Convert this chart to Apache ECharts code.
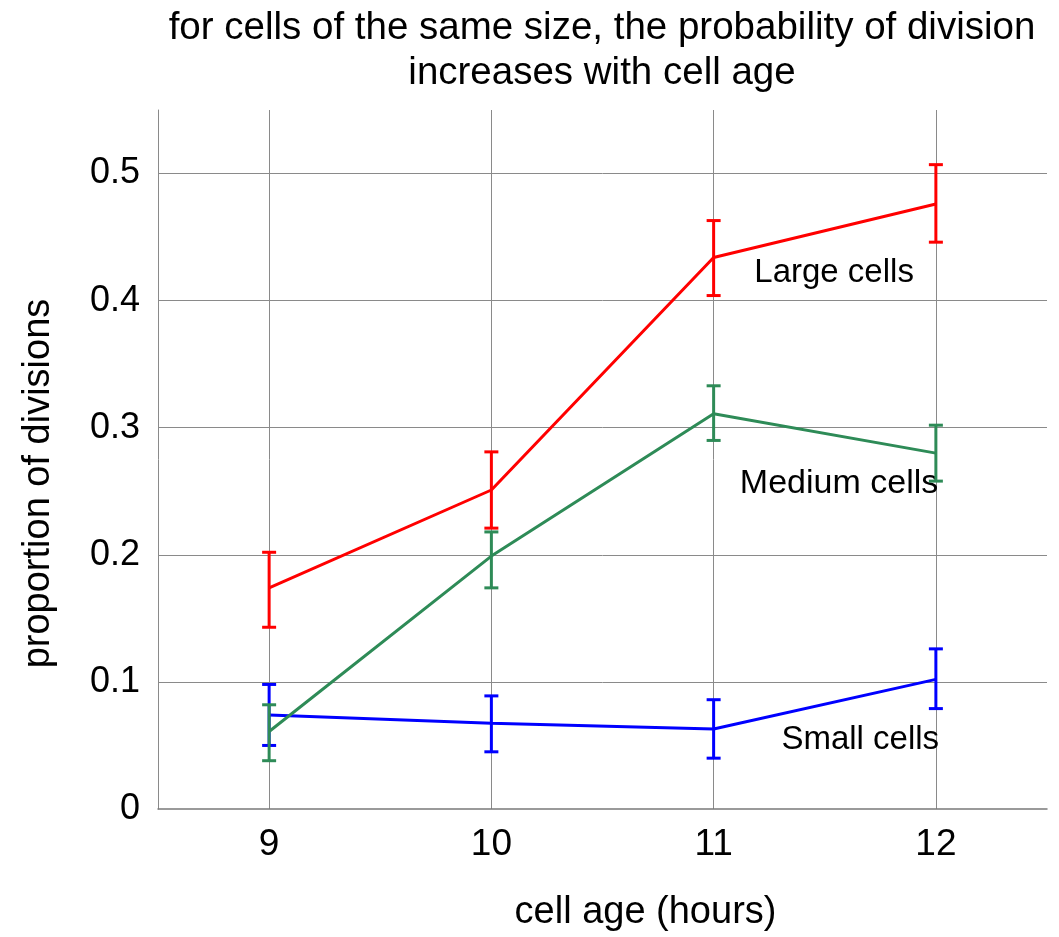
<!DOCTYPE html>
<html>
<head>
<meta charset="utf-8">
<script src="https://cdn.jsdelivr.net/npm/echarts@6/dist/echarts.min.js"></script>
<style>
html,body{margin:0;padding:0;background:#fff;}
#chart{width:1059px;height:937px;}
</style>
</head>
<body>
<div id="chart"></div>
<script>
// ---- data ----
const ages = [9, 10, 11, 12];
const xTickValues = [9, 10, 11, 12];
const yTickLabels = ['0', '0.1', '0.2', '0.3', '0.4', '0.5'];

const largeMean = [0.174, 0.251, 0.434, 0.476];
const largeLow  = [0.143, 0.221, 0.404, 0.446];
const largeHigh = [0.202, 0.281, 0.463, 0.507];

const mediumMean = [0.061, 0.199, 0.311, 0.280];
const mediumLow  = [0.038, 0.174, 0.290, 0.258];
const mediumHigh = [0.082, 0.218, 0.333, 0.302];

const smallMean = [0.074, 0.0675, 0.063, 0.102];
const smallLow  = [0.050, 0.045, 0.040, 0.079];
const smallHigh = [0.098, 0.089, 0.086, 0.126];

const seriesNames = ['Small cells', 'Medium cells', 'Large cells'];
// label anchor points (data space) for in-plot labels
const labelAnchorX = [11.305, 11.118, 11.183];
const labelAnchorY = [0.054, 0.256, 0.4215];

const colors = ['#0000ff', '#2e8b57', '#ff0000'];
const FONT = '"Liberation Sans", Arial, Helvetica, sans-serif';

const means = [smallMean, mediumMean, largeMean];
const lows = [smallLow, mediumLow, largeLow];
const highs = [smallHigh, mediumHigh, largeHigh];

function errorRender(color) {
  return function (params, api) {
    const x = api.value(0);
    const lo = api.coord([x, api.value(1)]);
    const hi = api.coord([x, api.value(2)]);
    const hw = 7;
    const style = { stroke: color, lineWidth: 3, fill: null };
    return {
      type: 'group',
      children: [
        { type: 'line', shape: { x1: lo[0], y1: lo[1], x2: hi[0], y2: hi[1] }, style: style },
        { type: 'line', shape: { x1: lo[0] - hw, y1: lo[1], x2: lo[0] + hw, y2: lo[1] }, style: style },
        { type: 'line', shape: { x1: hi[0] - hw, y1: hi[1], x2: hi[0] + hw, y2: hi[1] }, style: style }
      ]
    };
  };
}

const series = [];
// vertical grid lines
series.push({
  type: 'line', data: [], silent: true, z: 0,
  markLine: {
    silent: true, symbol: 'none', animation: false, z: 0,
    label: { show: false },
    lineStyle: { color: '#8a8a8a', width: 1, type: 'solid' },
    data: xTickValues.map(v => ({ xAxis: v }))
  }
});
for (let s = 0; s < 3; s++) {
  series.push({
    name: seriesNames[s],
    type: 'line',
    data: ages.map((a, i) => [a, means[s][i]]),
    symbol: 'none',
    lineStyle: { color: colors[s], width: 3 },
    itemStyle: { color: colors[s] },
    z: 3 + s * 2,
    animation: false,
    markPoint: {
      symbol: 'circle', symbolSize: 0, animation: false,
      data: [{
        coord: [labelAnchorX[s], labelAnchorY[s]],
        label: {
          show: true, formatter: seriesNames[s], position: 'right', distance: 0,
          color: '#000', fontSize: s === 1 ? 34 : 33, fontFamily: FONT
        }
      }]
    }
  });
  series.push({
    type: 'custom',
    renderItem: errorRender(colors[s]),
    data: ages.map((a, i) => [a, lows[s][i], highs[s][i]]),
    encode: { x: 0, y: [1, 2] },
    z: 4 + s * 2,
    animation: false,
    silent: true
  });
}

const chart = echarts.init(document.getElementById('chart'), null, { renderer: 'canvas' });
chart.setOption({
  backgroundColor: '#fff',
  animation: false,
  title: {
    text: 'for cells of the same size, the probability of division\nincreases with cell age',
    left: 602, top: 6, textAlign: 'center', padding: 0,
    textStyle: { fontSize: 38.5, fontWeight: 'normal', color: '#000', fontFamily: FONT, lineHeight: 45 }
  },
  grid: { left: 158, right: 12, top: 110, bottom: 125, containLabel: false },
  xAxis: {
    type: 'value', min: 8.5, max: 12.5, interval: 0.5,
    name: 'cell age (hours)', nameLocation: 'middle', nameGap: 85,
    nameTextStyle: { fontSize: 38, color: '#000', fontFamily: FONT, padding: [0, 0, 0, 86] },
    axisLine: { show: true, lineStyle: { color: '#7a7a7a', width: 1.5 } },
    axisTick: { show: false },
    splitLine: { show: false },
    axisLabel: {
      fontSize: 37, color: '#000', fontFamily: FONT, margin: 17,
      formatter: v => (xTickValues.indexOf(v) >= 0 ? String(v) : '')
    }
  },
  yAxis: {
    type: 'value', min: 0, max: 0.55, interval: 0.1,
    name: 'proportion of divisions', nameLocation: 'middle', nameGap: 100,
    nameTextStyle: { fontSize: 38, color: '#000', fontFamily: FONT, padding: [0, 48, 0, 0] },
    axisLine: { show: true, lineStyle: { color: '#8a8a8a', width: 1 } },
    axisTick: { show: false },
    splitLine: { show: true, showMaxLine: false, showMinLine: false, lineStyle: { color: '#8a8a8a', width: 1 } },
    axisLabel: {
      fontSize: 36, color: '#000', fontFamily: FONT, margin: 18,
      showMaxLabel: false,
      formatter: v => { const i = Math.round(v * 10); return Math.abs(v * 10 - i) < 1e-6 && i < yTickLabels.length ? yTickLabels[i] : ''; }
    }
  },
  series: series
});
</script>
</body>
</html>
